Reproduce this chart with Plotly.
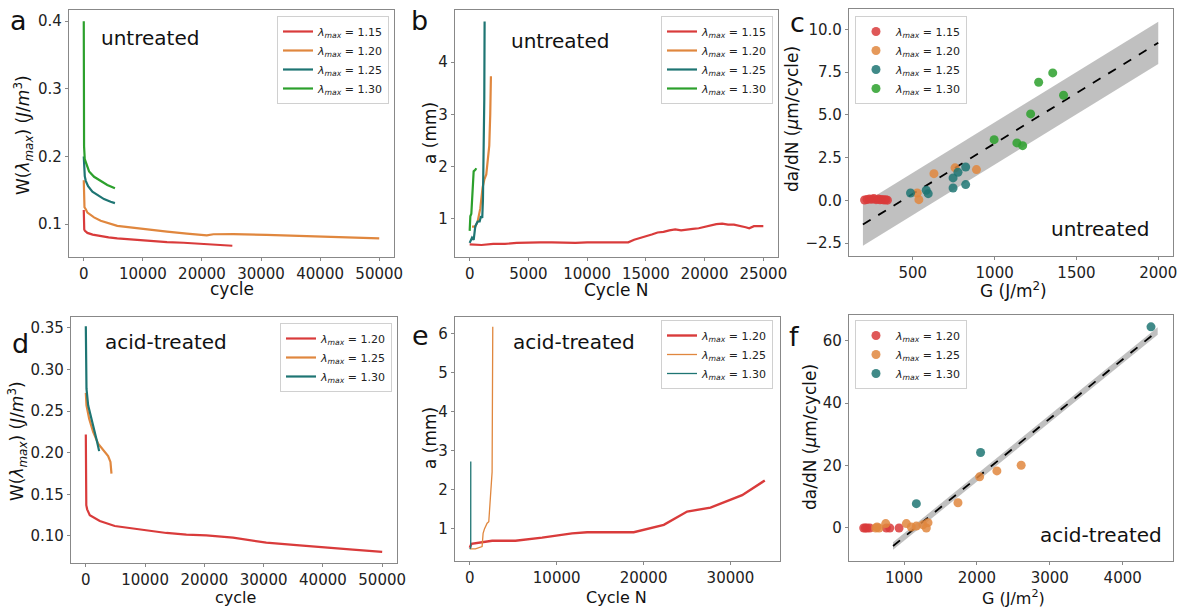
import plotly.graph_objects as go

# ---------------- data ----------------
lam_untreated = ["1.15", "1.20", "1.25", "1.30"]
lam_acid = ["1.20", "1.25", "1.30"]

# panel a : W(lambda_max) vs cycle (untreated)
a115_x = [0, 30, 80, 200, 617, 1500, 2862, 4200, 5668, 8474, 11280, 14085, 16891, 19697, 22503, 25140]
a115_y = [0.121, 0.100, 0.092, 0.090, 0.087, 0.0845, 0.082, 0.0805, 0.079, 0.077, 0.075, 0.0735, 0.0725, 0.071, 0.0696, 0.068]
a120_x = [0, 40, 120, 337, 617, 1740, 2862, 5668, 10157, 14085, 17452, 19697, 20819, 21942, 25309, 30920, 36532, 42144, 46633, 50000]
a120_y = [0.165, 0.135, 0.125, 0.122, 0.117, 0.110, 0.105, 0.0975, 0.0926, 0.089, 0.086, 0.084, 0.0833, 0.085, 0.0853, 0.084, 0.0828, 0.0814, 0.0804, 0.079]
a125_x = [0, 30, 80, 168, 337, 730, 1459, 2301, 3423, 4545, 5275]
a125_y = [0.200, 0.188, 0.178, 0.171, 0.164, 0.156, 0.148, 0.143, 0.137, 0.133, 0.131]
a130_x = [0, 10, 25, 50, 168, 505, 898, 1740, 2862, 3984, 5275]
a130_y = [0.400, 0.300, 0.245, 0.215, 0.196, 0.186, 0.178, 0.170, 0.164, 0.158, 0.153]

# panel b : crack length vs cycle (untreated)
b115_x = [0, 1000, 2000, 3000, 4000, 5000, 6000, 7000, 8000, 9000, 10000, 11000, 12000, 13000, 13500,
          14000, 14500, 15000, 15500, 16000, 16500, 17000, 17500, 18000, 18500, 19000, 19500, 20000,
          20500, 21000, 21500, 22000, 22500, 23000, 23500, 23800, 24200, 25000]
b115_y = [0.51, 0.50, 0.52, 0.52, 0.54, 0.55, 0.55, 0.55, 0.54, 0.54, 0.55, 0.55, 0.54, 0.54, 0.55,
          0.60, 0.63, 0.66, 0.70, 0.74, 0.75, 0.78, 0.80, 0.78, 0.80, 0.81, 0.82, 0.85,
          0.87, 0.90, 0.91, 0.89, 0.89, 0.87, 0.84, 0.82, 0.86, 0.86]
b120_x = [200, 480, 678, 904, 1100, 1243, 1412, 1525, 1667, 1750, 1808]
b120_y = [0.85, 0.85, 0.95, 1.20, 1.60, 1.75, 1.85, 2.10, 2.40, 3.00, 3.73]
b125_x = [0, 200, 340, 480, 680, 850, 960, 1070, 1130, 1186, 1243, 1271]
b125_y = [0.54, 0.64, 0.60, 0.86, 0.95, 0.95, 1.05, 1.02, 1.37, 2.00, 3.28, 4.78]
b130_x = [0, 56, 141, 226, 311, 339, 480, 565]
b130_y = [0.77, 1.05, 1.10, 1.43, 1.72, 1.91, 1.94, 1.97]

# panel c : da/dN vs G (untreated)
c115_G = [205, 220, 235, 250, 262, 275, 290, 300, 312, 325, 335, 345]
c115_r = [0.02, 0.05, 0.08, 0.06, 0.10, 0.04, 0.07, 0.03, 0.05, 0.02, 0.04, 0.01]
c120_G = [527, 537, 629, 758, 889]
c120_r = [0.43, 0.04, 1.56, 1.90, 1.80]
c125_G = [486, 582, 594, 746, 746, 776, 823, 823]
c125_r = [0.43, 0.59, 0.39, 1.31, 0.72, 1.64, 1.95, 0.92]
c130_G = [997, 1136, 1171, 1220, 1269, 1355, 1421]
c130_r = [3.55, 3.36, 3.20, 5.06, 6.91, 7.46, 6.15]
c_fit_G = [195, 2000]
c_fit_r = [-1.42, 9.22]
c_band_hi = [-0.18, 10.46]
c_band_lo = [-2.66, 7.98]

# panel d : W(lambda_max) vs cycle (acid-treated)
d120_x = [0, 30, 80, 225, 674, 2360, 4888, 7978, 10787, 13596, 16966, 20337, 24831, 27640, 30449, 36067, 41685, 45056, 50000]
d120_y = [0.222, 0.160, 0.137, 0.132, 0.125, 0.118, 0.112, 0.109, 0.106, 0.1036, 0.1016, 0.1008, 0.098, 0.0948, 0.092, 0.0888, 0.086, 0.0836, 0.0808]
d125_x = [0, 112, 562, 1236, 2079, 2921, 3764, 4157, 4326]
d125_y = [0.272, 0.257, 0.241, 0.225, 0.211, 0.203, 0.196, 0.189, 0.175]
d130_x = [0, 40, 112, 393, 955, 1517, 1910, 2247]
d130_y = [0.352, 0.300, 0.277, 0.257, 0.241, 0.227, 0.213, 0.202]

# panel e : crack length vs cycle (acid-treated)
e120_x = [0, 192, 2570, 5256, 8325, 11777, 13504, 18875, 22327, 25013, 27698, 31343, 33951]
e120_y = [0.50, 0.60, 0.68, 0.68, 0.76, 0.87, 0.90, 0.90, 1.09, 1.43, 1.53, 1.85, 2.23]
e125_x = [0, 652, 1419, 1534, 1688, 1995, 2187, 2379, 2570, 2647]
e125_y = [0.47, 0.47, 0.53, 0.87, 0.98, 1.13, 1.17, 1.77, 2.45, 6.18]
e130_x = [0, 110, 115]
e130_y = [0.47, 0.50, 2.72]

# panel f : da/dN vs G (acid-treated)
f120_G = [447, 470, 493, 530, 758, 804, 932]
f120_r = [0.0, 0.0, 0.0, 0.0, 0.0, 0.0, 0.0]
f125_G = [612, 630, 658, 749, 1032, 1100, 1169, 1260, 1306, 1329, 1740, 2037, 2274, 2607]
f125_r = [0.0, 0.3, 0.0, 1.4, 1.4, 0.3, 0.6, 1.0, 0.0, 1.7, 8.1, 16.4, 18.3, 20.1]
f130_G = [1169, 2050, 4388]
f130_r = [7.8, 24.2, 64.5]
f_fit_G = [849, 4480]
f_fit_r = [-5.8, 63.2]
f_band_hi = [-4.6, 64.4]
f_band_lo = [-7.0, 62.0]

# ---------------- style ----------------
W, H = 1187, 607
RED, ORANGE, TEAL, GREEN = "#d93b3b", "#e0873e", "#1e7573", "#2ca02c"
FONT = "DejaVu Sans"


def dx(a, b):
    return [a / W, b / W]


def dy(t, b):
    return [1 - b / H, 1 - t / H]


def lam(v):
    return "<i>λ</i><sub><i>max</i></sub> = " + v


fig = go.Figure()


def line(x, y, color, name, ax, lg, width=2.2):
    fig.add_trace(go.Scatter(x=x, y=y, mode="lines", name=name, line=dict(color=color, width=width),
                             xaxis="x" + ax, yaxis="y" + ax, legend=lg))


def dots(x, y, color, name, ax, lg):
    fig.add_trace(go.Scatter(x=x, y=y, mode="markers", name=name,
                             marker=dict(color=color, size=9, opacity=0.85, line=dict(width=0)),
                             xaxis="x" + ax, yaxis="y" + ax, legend=lg))


def band(x, lo, hi, fx, fy, ax):
    fig.add_trace(go.Scatter(x=x, y=lo, mode="lines", line=dict(width=0), showlegend=False,
                             hoverinfo="skip", xaxis="x" + ax, yaxis="y" + ax))
    fig.add_trace(go.Scatter(x=x, y=hi, mode="lines", line=dict(width=0), fill="tonexty",
                             fillcolor="rgba(150,150,150,0.6)", showlegend=False, hoverinfo="skip",
                             xaxis="x" + ax, yaxis="y" + ax))
    fig.add_trace(go.Scatter(x=fx, y=fy, mode="lines", line=dict(color="black", width=1.8, dash="dash"),
                             showlegend=False, hoverinfo="skip", xaxis="x" + ax, yaxis="y" + ax))


# panel a
for (x, y, c, v) in [(a115_x, a115_y, RED, lam_untreated[0]), (a120_x, a120_y, ORANGE, lam_untreated[1]),
                     (a125_x, a125_y, TEAL, lam_untreated[2]), (a130_x, a130_y, GREEN, lam_untreated[3])]:
    line(x, y, c, lam(v), "", "legend")
# panel b
for (x, y, c, v) in [(b115_x, b115_y, RED, lam_untreated[0]), (b120_x, b120_y, ORANGE, lam_untreated[1]),
                     (b125_x, b125_y, TEAL, lam_untreated[2]), (b130_x, b130_y, GREEN, lam_untreated[3])]:
    line(x, y, c, lam(v), "2", "legend2")
# panel c
band(c_fit_G, c_band_lo, c_band_hi, c_fit_G, c_fit_r, "3")
for (x, y, c, v) in [(c115_G, c115_r, RED, lam_untreated[0]), (c120_G, c120_r, ORANGE, lam_untreated[1]),
                     (c125_G, c125_r, TEAL, lam_untreated[2]), (c130_G, c130_r, GREEN, lam_untreated[3])]:
    dots(x, y, c, lam(v), "3", "legend3")
# panel d
for (x, y, c, v) in [(d120_x, d120_y, RED, lam_acid[0]), (d125_x, d125_y, ORANGE, lam_acid[1]),
                     (d130_x, d130_y, TEAL, lam_acid[2])]:
    line(x, y, c, lam(v), "4", "legend4")
# panel e
line(e120_x, e120_y, RED, lam(lam_acid[0]), "5", "legend5", width=2.4)
line(e125_x, e125_y, ORANGE, lam(lam_acid[1]), "5", "legend5", width=1.3)
line(e130_x, e130_y, TEAL, lam(lam_acid[2]), "5", "legend5", width=1.3)
# panel f
band(f_fit_G, f_band_lo, f_band_hi, f_fit_G, f_fit_r, "6")
for (x, y, c, v) in [(f120_G, f120_r, RED, lam_acid[0]), (f125_G, f125_r, ORANGE, lam_acid[1]),
                     (f130_G, f130_r, TEAL, lam_acid[2])]:
    dots(x, y, c, lam(v), "6", "legend6")

axc = dict(showline=True, linecolor="#888", linewidth=1.2, mirror=True, ticklen=3, ticks="outside",
           tickcolor="#888", showgrid=False, zeroline=False, automargin=False,
           tickfont=dict(family=FONT, size=15, color="#222"))
xc = dict(axc, tickformat="d")
yc = dict(axc)

layout_axes = {
    "xaxis": dict(xc, domain=dx(69, 394), range=[-2500, 52500], anchor="y", tickvals=[0, 10000, 20000, 30000, 40000, 50000]),
    "yaxis": dict(yc, domain=dy(10, 257), range=[0.0514, 0.4166], anchor="x", tickvals=[0.1, 0.2, 0.3, 0.4], tickformat=".1f"),
    "xaxis2": dict(xc, domain=dx(455, 778), range=[-1250, 26250], anchor="y2", tickvals=[0, 5000, 10000, 15000, 20000, 25000]),
    "yaxis2": dict(yc, domain=dy(10, 257), range=[0.27, 5.0], anchor="x2", tickvals=[1, 2, 3, 4]),
    "xaxis3": dict(xc, domain=dx(849, 1173), range=[110, 2090], anchor="y3", tickvals=[500, 1000, 1500, 2000]),
    "yaxis3": dict(yc, domain=dy(9, 256), range=[-3.26, 11.2], anchor="x3", tickvals=[-2.5, 0, 2.5, 5, 7.5, 10], tickformat=".1f"),
    "xaxis4": dict(xc, domain=dx(71, 397), range=[-2500, 52500], anchor="y4", tickvals=[0, 10000, 20000, 30000, 40000, 50000]),
    "yaxis4": dict(yc, domain=dy(317, 563), range=[0.0675, 0.3632], anchor="x4", tickvals=[0.1, 0.15, 0.2, 0.25, 0.3, 0.35], tickformat=".2f"),
    "xaxis5": dict(xc, domain=dx(455, 780), range=[-1700, 35700], anchor="y5", tickvals=[0, 10000, 20000, 30000]),
    "yaxis5": dict(yc, domain=dy(317, 561), range=[0.16, 6.43], anchor="x5", tickvals=[1, 2, 3, 4, 5, 6]),
    "xaxis6": dict(xc, domain=dx(849, 1173), range=[245, 4690], anchor="y6", tickvals=[1000, 2000, 3000, 4000]),
    "yaxis6": dict(yc, domain=dy(315, 561), range=[-10.6, 68.3], anchor="x6", tickvals=[0, 20, 40, 60]),
}

lgc = dict(bgcolor="rgba(255,255,255,0.85)", bordercolor="#d0d0d0", borderwidth=1, itemwidth=30,
           font=dict(family=FONT, size=11, color="#222"), yanchor="top", tracegroupgap=0,
           traceorder="normal")


def lg(px, py, xa):
    return dict(lgc, x=px / W, y=1 - py / H, xanchor=xa)


annots = []


def txt(s, px, py, size, angle=0):
    annots.append(dict(text=s, x=px / W, y=1 - py / H, xref="paper", yref="paper", showarrow=False,
                       xanchor="center", yanchor="middle", textangle=angle,
                       font=dict(family=FONT, size=size, color="#111")))


wlab = "W(<i>λ</i><sub><i>max</i></sub>) (<i>J</i>/<i>m</i><sup>3</sup>)"
glab = "G (J/m<sup>2</sup>)"
dlab = "da/dN (<i>μ</i>m/cycle)"

# axis titles
txt("cycle", 232, 289, 17)
txt("Cycle N", 617, 290, 17)
txt(glab, 1014, 290, 17)
txt("cycle", 235, 597, 16)
txt("Cycle N", 617, 597, 16)
txt(glab, 1014, 597, 16)
txt(wlab, 24, 135, 17, -90)
txt("a (mm)", 430, 133, 17, -90)
txt(dlab, 792, 119, 17, -90)
txt(wlab, 17, 441, 17, -90)
txt("a (mm)", 430, 438, 17, -90)
txt(dlab, 810, 437, 17, -90)

# panel texts
txt("untreated", 150, 38, 20)
txt("untreated", 560, 41, 20)
txt("untreated", 1100, 229, 20)
txt("acid-treated", 166, 342, 20)
txt("acid-treated", 574, 342, 20)
txt("acid-treated", 1101, 535, 20)
txt("a", 19, 21, 27)
txt("b", 419, 21, 27)
txt("c", 797, 22, 27)
txt("d", 20, 343, 27)
txt("e", 420, 335, 27)
txt("f", 794, 337, 27)

fig.update_layout(
    width=W, height=H, margin=dict(l=0, r=0, t=0, b=0),
    paper_bgcolor="white", plot_bgcolor="white",
    font=dict(family=FONT, color="#222"),
    legend=lg(389, 16, "right"), legend2=lg(773, 16, "right"), legend3=lg(855, 16, "left"),
    legend4=lg(392, 323, "right"), legend5=lg(773, 320, "right"), legend6=lg(855, 320, "left"),
    annotations=annots, showlegend=True,
    **layout_axes,
)

fig.write_html("out.html", config={"displayModeBar": False},
               post_script="document.body.style.margin='0';document.body.style.overflow='hidden';")
